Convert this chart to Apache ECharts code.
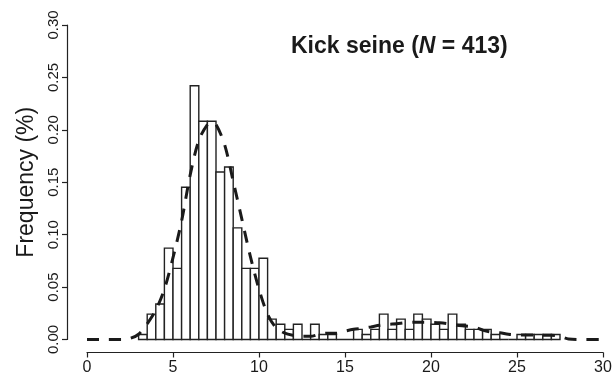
<!DOCTYPE html>
<html>
<head>
<meta charset="utf-8">
<script src="https://cdn.jsdelivr.net/npm/echarts@6/dist/echarts.min.js"></script>
<style>
  html, body { margin: 0; padding: 0; background: #fff; }
  #chart { width: 615px; height: 379px; }
</style>
</head>
<body>
<div id="chart"></div>
<script>
// histogram bins (left edge, width 0.5) and frequency
const binStart = [3, 3.5, 4, 4.5, 5, 5.5, 6, 6.5, 7, 7.5, 8, 8.5, 9, 9.5, 10, 10.5, 11, 11.5, 12, 12.5,
  13, 13.5, 14, 14.5, 15, 15.5, 16, 16.5, 17, 17.5, 18, 18.5, 19, 19.5, 20, 20.5, 21, 21.5, 22, 22.5,
  23, 23.5, 24, 24.5, 25, 25.5, 26, 26.5, 27];
const binWidth = 0.5;
const freq = [0.0048, 0.0242, 0.0339, 0.0872, 0.0678, 0.1453, 0.2421, 0.2082, 0.2082, 0.1598,
  0.1646, 0.1065, 0.0678, 0.0678, 0.0775, 0.0194, 0.0145, 0.0097, 0.0145, 0,
  0.0145, 0.0048, 0.0048, 0, 0, 0.0097, 0.0048, 0.0097, 0.0242, 0.0097,
  0.0194, 0.0097, 0.0242, 0.0194, 0.0145, 0.0097, 0.0242, 0.0145, 0.0097, 0.0097,
  0.0097, 0.0048, 0, 0, 0.0048, 0.0048, 0.0048, 0.0048, 0.0048];

// fitted density (dashed curve)
const densX = [0, 1, 2, 2.5, 3, 3.5, 4, 4.5, 5, 5.5, 6, 6.5, 7, 7.25, 7.5, 8, 8.5, 9, 9.5, 10,
  10.5, 11, 11.5, 12, 12.5, 13, 13.5, 14, 14.5, 15, 15.5, 16, 16.5, 17, 17.5, 18, 18.5, 19, 19.5, 20,
  20.5, 21, 21.5, 22, 22.5, 23, 23.5, 24, 24.5, 25, 25.5, 26, 26.5, 27, 27.5, 28, 29, 30];
const densY = [0, 0, 0, 0.001, 0.005, 0.015, 0.028, 0.048, 0.078, 0.113, 0.157, 0.19, 0.205, 0.207, 0.205, 0.186, 0.151, 0.115, 0.079, 0.048,
  0.024, 0.011, 0.006, 0.004, 0.003, 0.003, 0.005, 0.006, 0.006, 0.008, 0.0097, 0.0107, 0.012, 0.0135, 0.0145, 0.015, 0.016, 0.0164, 0.0165, 0.0164,
  0.016, 0.015, 0.0135, 0.0128, 0.012, 0.009, 0.007, 0.0065, 0.005, 0.0045, 0.0043, 0.0042, 0.004, 0.004, 0.003, 0.0005, 0, 0];

const yTicks = [0, 0.05, 0.10, 0.15, 0.20, 0.25, 0.30];
const xTicks = [0, 5, 10, 15, 20, 25, 30];

const FONT = '"Liberation Sans", Arial, sans-serif';
const chart = echarts.init(document.getElementById('chart'));

const histData = binStart.map((s, i) => [s, s + binWidth, freq[i]]);

chart.setOption({
  animation: false,
  title: {
    text: '{b|Kick seine (}{i|N}{b| = 413)}',
    left: 286,
    top: 30,
    textStyle: {
      rich: {
        b: { fontFamily: FONT, fontSize: 23, fontWeight: 'bold', color: '#1a1a1a' },
        i: { fontFamily: FONT, fontSize: 23, fontWeight: 'bold', fontStyle: 'italic', color: '#1a1a1a' }
      }
    }
  },
  grid: { left: 87, right: 12, top: 25, bottom: 39.5 },
  xAxis: {
    type: 'value',
    min: xTicks[0],
    max: xTicks[xTicks.length - 1],
    interval: 5,
    offset: 13,
    axisLine: { show: true, onZero: false, lineStyle: { color: '#222', width: 1.2 } },
    axisTick: { show: true, length: 5, lineStyle: { color: '#222', width: 1.2 } },
    axisLabel: { fontFamily: FONT, fontSize: 16, color: '#1a1a1a', margin: 7 },
    splitLine: { show: false }
  },
  yAxis: {
    type: 'value',
    min: yTicks[0],
    max: yTicks[yTicks.length - 1],
    interval: 0.05,
    offset: 20,
    name: 'Frequency (%)',
    nameLocation: 'middle',
    nameRotate: 90,
    nameGap: 29,
    nameTextStyle: { fontFamily: FONT, fontSize: 23, color: '#1a1a1a' },
    axisLine: { show: true, onZero: false, lineStyle: { color: '#222', width: 1.2 } },
    axisTick: { show: true, length: 5, lineStyle: { color: '#222', width: 1.2 } },
    axisLabel: {
      fontFamily: FONT, fontSize: 15, color: '#1a1a1a', rotate: 90, margin: 6,
      formatter: v => v.toFixed(2)
    },
    splitLine: { show: false }
  },
  series: [
    {
      type: 'custom',
      data: histData,
      encode: { x: [0, 1], y: 2 },
      renderItem: (params, api) => {
        const p0 = api.coord([api.value(0), 0]);
        const p1 = api.coord([api.value(1), api.value(2)]);
        return {
          type: 'rect',
          shape: { x: p0[0], y: p1[1], width: p1[0] - p0[0], height: p0[1] - p1[1] },
          style: { fill: '#fff', stroke: '#222', lineWidth: 1.4 }
        };
      },
      z: 2
    },
    {
      type: 'line',
      data: densX.map((x, i) => [x, densY[i]]),
      smooth: 0.3,
      symbol: 'none',
      lineStyle: { color: '#1a1a1a', width: 3, type: [12, 10], cap: 'butt' },
      z: 3
    }
  ]
});
</script>
</body>
</html>
